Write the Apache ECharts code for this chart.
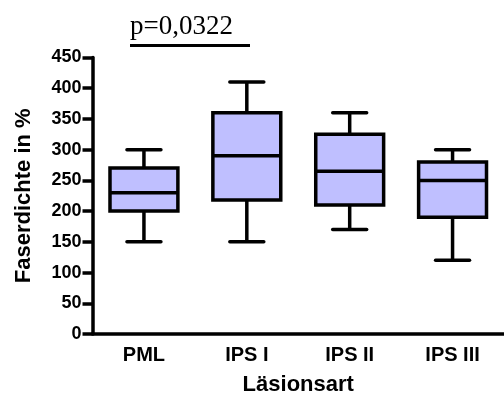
<!DOCTYPE html>
<html>
<head>
<meta charset="utf-8">
<script src="https://cdn.jsdelivr.net/npm/echarts@6/dist/echarts.min.js"></script>
<style>html,body{margin:0;padding:0;background:#fff}#c{width:504px;height:401px}</style>
</head>
<body>
<div id="c"></div>
<script>
var categories = ['PML', 'IPS I', 'IPS II', 'IPS III'];
var whiskerMin = [150, 150, 170, 120];
var quartile1 = [200, 218, 210, 190];
var medians = [230, 290, 265, 250];
var quartile3 = [270, 360, 325, 280];
var whiskerMax = [300, 410, 360, 300];
var yTicks = [0, 450, 50];
var pLabel = 'p=0,0322';

var data = categories.map(function (c, i) {
  return [i, whiskerMin[i], quartile1[i], medians[i], quartile3[i], whiskerMax[i]];
});

var FILL = '#BFBFFF';
var LW = 3.5;

function renderItem(params, api) {
  var i = api.value(0);
  var band = api.size([1, 0])[0];
  var boxW = band * 0.66;
  var capW = band * 0.33;
  var pMin = api.coord([i, api.value(1)]);
  var pQ1 = api.coord([i, api.value(2)]);
  var pMed = api.coord([i, api.value(3)]);
  var pQ3 = api.coord([i, api.value(4)]);
  var pMax = api.coord([i, api.value(5)]);
  var x = pMin[0];
  var ls = {stroke: '#000', lineWidth: LW, lineCap: 'butt'};
  var cs = {stroke: '#000', lineWidth: LW, lineCap: 'round'};
  return {
    type: 'group',
    children: [
      {type: 'line', shape: {x1: x, y1: pMin[1], x2: x, y2: pQ1[1]}, style: ls},
      {type: 'line', shape: {x1: x, y1: pQ3[1], x2: x, y2: pMax[1]}, style: ls},
      {type: 'line', shape: {x1: x - capW / 2, y1: pMin[1], x2: x + capW / 2, y2: pMin[1]}, style: cs},
      {type: 'line', shape: {x1: x - capW / 2, y1: pMax[1], x2: x + capW / 2, y2: pMax[1]}, style: cs},
      {type: 'rect', shape: {x: x - boxW / 2, y: pQ3[1], width: boxW, height: pQ1[1] - pQ3[1]},
        style: {fill: FILL, stroke: '#000', lineWidth: LW, lineJoin: 'miter'}},
      {type: 'line', shape: {x1: x - boxW / 2, y1: pMed[1], x2: x + boxW / 2, y2: pMed[1]}, style: ls}
    ]
  };
}

var chart = echarts.init(document.getElementById('c'), null, {renderer: 'canvas'});
var font = '"Liberation Sans", Arial, sans-serif';
chart.setOption({
  animation: false,
  backgroundColor: '#fff',
  grid: {left: 92.5, top: 57.5, width: 420, height: 279, containLabel: false},
  xAxis: {
    type: 'category',
    data: categories,
    boundaryGap: true,
    name: 'Läsionsart',
    nameLocation: 'middle',
    nameGap: 40,
    nameTextStyle: {fontFamily: font, fontWeight: 'bold', fontSize: 22, color: '#000'},
    axisLine: {lineStyle: {color: '#000', width: 3.5}},
    axisTick: {alignWithLabel: true, length: 7, lineStyle: {color: '#000', width: 3.5}},
    axisLabel: {fontFamily: font, fontWeight: 'bold', fontSize: 20, color: '#000', margin: 11},
    splitLine: {show: false}
  },
  yAxis: {
    type: 'value',
    min: yTicks[0],
    max: yTicks[1],
    interval: yTicks[2],
    name: 'Faserdichte in %',
    nameLocation: 'middle',
    nameRotate: 90,
    nameGap: 58,
    nameTextStyle: {fontFamily: font, fontWeight: 'bold', fontSize: 22, color: '#000'},
    axisLine: {show: true, lineStyle: {color: '#000', width: 3.5}},
    axisTick: {show: true, length: 10, lineStyle: {color: '#000', width: 3.5}},
    axisLabel: {fontFamily: font, fontWeight: 'bold', fontSize: 18, color: '#000', margin: 11},
    splitLine: {show: false}
  },
  graphic: [
    {type: 'text', left: 130, top: 13,
      style: {text: pLabel, font: '27px "Liberation Serif", "Times New Roman", serif', fill: '#000'}},
    {type: 'line', shape: {x1: 130, y1: 45.5, x2: 250, y2: 45.5}, style: {stroke: '#000', lineWidth: 3}}
  ],
  series: [{
    type: 'custom',
    renderItem: renderItem,
    encode: {x: 0, y: [1, 2, 3, 4, 5]},
    data: data
  }]
});
</script>
</body>
</html>
